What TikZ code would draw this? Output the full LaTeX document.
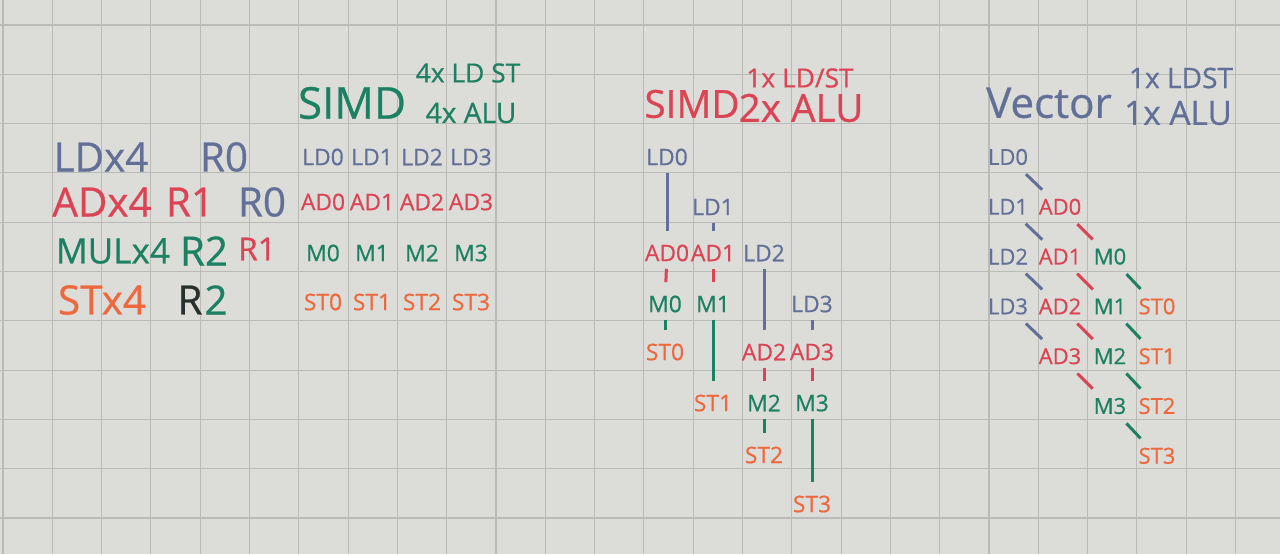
\documentclass[tikz,border=0pt]{standalone}
\usepackage{fontspec}
\setmainfont{Open Sans}[FakeBold=0.6]
\usepackage{tikz}
\definecolor{pnblue}{RGB}{98,112,152}
\definecolor{pnred}{RGB}{218,68,84}
\definecolor{pngreen}{RGB}{28,128,98}
\definecolor{pnorange}{RGB}{238,104,62}
\definecolor{pnink}{RGB}{40,48,45}
\definecolor{paper}{RGB}{220,220,216}
\definecolor{rule}{RGB}{186,186,182}
\newcommand{\fs}[1]{\fontsize{#1}{#1}\selectfont}

\begin{document}
\begin{tikzpicture}[x=0.02cm, y=-0.02cm,
    big/.style={font=\fs{23}, inner sep=1pt},
    ttl/.style={inner sep=1pt},
    op/.style={font=\fs{13}, inner sep=1.5pt},
    vop/.style={font=\fs{12.5}, inner sep=1.5pt},
    wire/.style={line width=1.7pt, shorten <=2.5pt, shorten >=6pt},
    slant/.style={line width=1.7pt, shorten <=5pt, shorten >=5pt},
  ]
    % squared paper
    \fill[paper] (0,0) rectangle (1280,554);
    \useasboundingbox (0,0) rectangle (1280,554);
    \foreach \k in {0,...,25}
      \draw[rule, line width=0.6pt] ({3+49.3*\k},0) -- ({3+49.3*\k},554);
    \foreach \k in {0,...,10}
      \draw[rule, line width=0.6pt] (0,{25+49.3*\k}) -- (1280,{25+49.3*\k});

    % program
    \node[big, pnblue]  (ldx)   at (101,157) {LDx4};
    \node[big, pnblue]  (ldr0)  at (224,157) {R0};
    \node[big, pnred]   (adx)   at (102,202) {ADx4};
    \node[big, pnred]   (adr1)  at (190,202) {R1};
    \node[big, pnblue]  (adr0)  at (262,202) {R0};
    \node[big, pngreen, font=\fs{20}] (mulx) at (113,251) {MULx4};
    \node[big, pngreen] (mulr2) at (204,251) {R2};
    \node[big, pnred, font=\fs{18}] (mulr1) at (257,249) {R1};
    \node[big, pnorange] (stx)  at (102,300) {STx4};
    \node[big, pnink, inner sep=0pt]   (strr) at (190,300) {R};
    \node[big, pngreen, inner sep=0pt] (str2) at (216,300) {2};

    % SIMD
    \node[ttl, pngreen, font=\fs{25}] (simd)    at (352,103) {SIMD};
    \node[ttl, pngreen, font=\fs{15}] (simdls)  at (468,73)  {4x LD ST};
    \node[ttl, pngreen, font=\fs{16}] (simdalu) at (471,113) {4x ALU};
    \foreach \i/\x in {0/323,1/372,2/422,3/471} {
      \node[op, pnblue]   (sld\i) at (\x,157) {LD\i};
      \node[op, pnred]    (sad\i) at (\x,202) {AD\i};
      \node[op, pngreen]  (sm\i)  at (\x,253) {M\i};
      \node[op, pnorange] (sst\i) at (\x,302) {ST\i};
    }

    % SIMD, 2x ALU
    \node[ttl, pnred, font=\fs{22}] (dualsimd) at (692,104) {SIMD};
    \node[ttl, pnred, font=\fs{22}] (dualalu)  at (801,108) {2x ALU};
    \node[ttl, pnred, font=\fs{15}] (dualls)   at (800,78)  {1x LD/ST};
    \node[op, pnblue]   (dld0) at (667,157) {LD0};
    \node[op, pnred]    (dad0) at (667,253) {AD0};
    \node[op, pngreen]  (dm0)  at (665,304) {M0};
    \node[op, pnorange] (dst0) at (665,352) {ST0};
    \node[op, pnblue]   (dld1) at (713,207) {LD1};
    \node[op, pnred]    (dad1) at (713,253) {AD1};
    \node[op, pngreen]  (dm1)  at (713,304) {M1};
    \node[op, pnorange] (dst1) at (713,403) {ST1};
    \node[op, pnblue]   (dld2) at (764,253) {LD2};
    \node[op, pnred]    (dad2) at (764,352) {AD2};
    \node[op, pngreen]  (dm2)  at (764,403) {M2};
    \node[op, pnorange] (dst2) at (764,455) {ST2};
    \node[op, pnblue]   (dld3) at (812,304) {LD3};
    \node[op, pnred]    (dad3) at (812,352) {AD3};
    \node[op, pngreen]  (dm3)  at (812,403) {M3};
    \node[op, pnorange] (dst3) at (812,504) {ST3};
    \foreach \i in {0,...,3} {
      \draw[wire, pnblue]  (dld\i) -- (dad\i);
      \draw[wire, pnred]   (dad\i) -- (dm\i);
      \draw[wire, pngreen] (dm\i)  -- (dst\i);
    }

    % Vector
    \node[ttl, pnblue, font=\fs{24}] (vec)    at (1049,103) {Vector};
    \node[ttl, pnblue, font=\fs{16}] (vecls)  at (1181,78)  {1x LDST};
    \node[ttl, pnblue, font=\fs{19}] (vecalu) at (1178,113) {1x ALU};
    \foreach \i [evaluate=\i as \y using 157+49.8*\i] in {0,...,3} {
      \node[vop, pnblue]   (vld\i) at (1008,\y)          {LD\i};
      \node[vop, pnred]    (vad\i) at (1060,{\y+49.8})   {AD\i};
      \node[vop, pngreen]  (vm\i)  at (1110,{\y+99.6})   {M\i};
      \node[vop, pnorange] (vst\i) at (1157,{\y+149.4})  {ST\i};
      \draw[slant, pnblue]  (vld\i) -- (vad\i);
      \draw[slant, pnred]   (vad\i) -- (vm\i);
      \draw[slant, pngreen] (vm\i)  -- (vst\i);
    }
\end{tikzpicture}
\end{document}
